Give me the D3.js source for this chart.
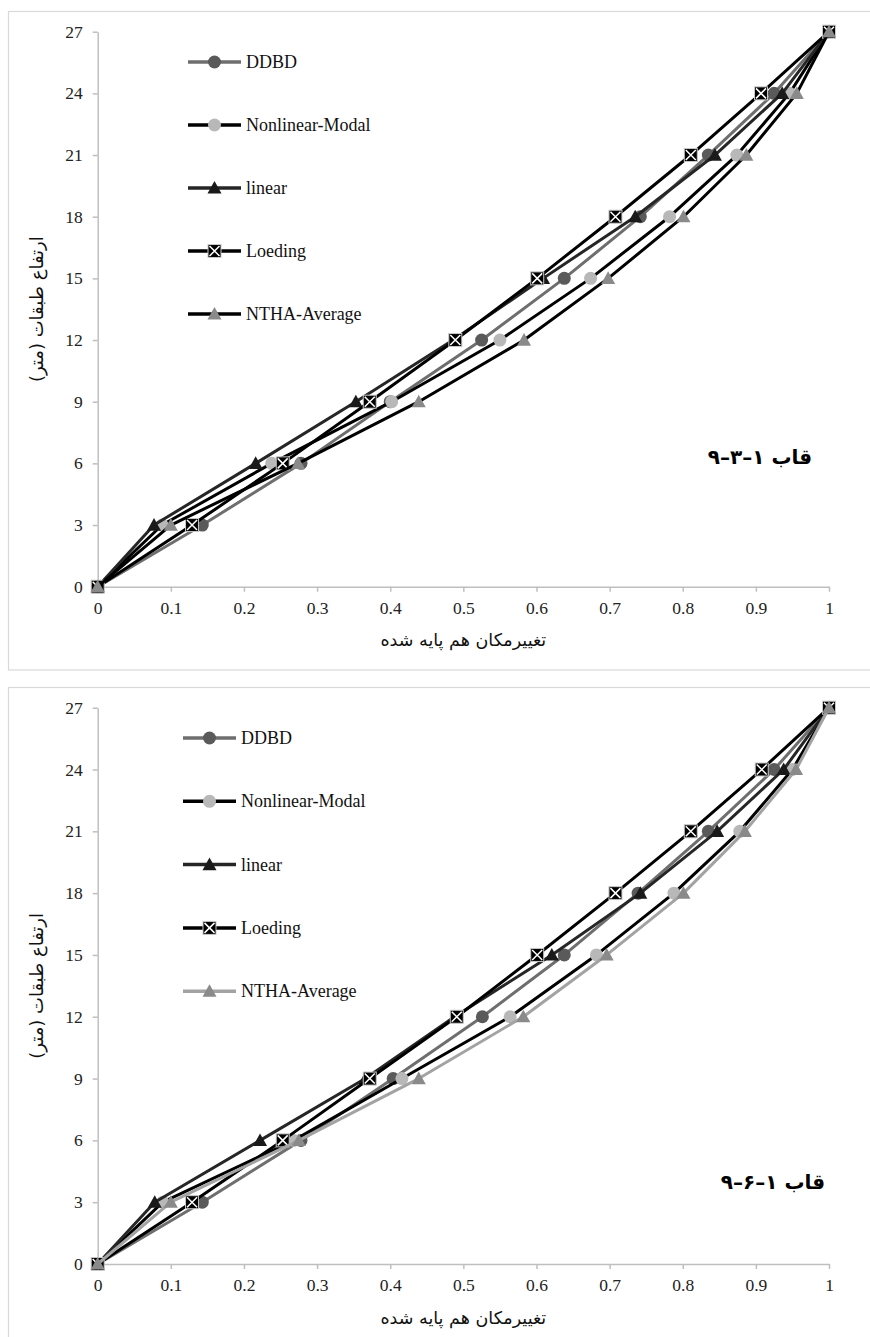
<!DOCTYPE html>
<html>
<head>
<meta charset="utf-8">
<script src="https://cdn.jsdelivr.net/npm/d3@7"></script>
<style>
  html, body { margin: 0; padding: 0; background: #fff; }
  svg { display: block; }
</style>
</head>
<body>
<svg id="chart" width="870" height="1337"></svg>
<script>
// ---------------- data ----------------
const heights = [0, 3, 6, 9, 12, 15, 18, 21, 24, 27];
const seriesNames = ["DDBD", "Nonlinear-Modal", "linear", "Loeding", "NTHA-Average"];
const xTicks = [0, 0.1, 0.2, 0.3, 0.4, 0.5, 0.6, 0.7, 0.8, 0.9, 1];
const yTicks = [0, 3, 6, 9, 12, 15, 18, 21, 24, 27];

// Chart 1 (قاب ۱-۳-۹)
const ddbd1    = [0, 0.143, 0.278, 0.400, 0.525, 0.638, 0.742, 0.835, 0.925, 1];
const nlm1     = [0, 0.088, 0.238, 0.402, 0.550, 0.674, 0.782, 0.874, 0.946, 1];
const linear1  = [0, 0.077, 0.216, 0.353, 0.486, 0.609, 0.735, 0.844, 0.936, 1];
const loeding1 = [0, 0.129, 0.253, 0.372, 0.489, 0.601, 0.708, 0.811, 0.907, 1];
const ntha1    = [0, 0.100, 0.274, 0.439, 0.583, 0.698, 0.801, 0.887, 0.956, 1];

// Chart 2 (قاب ۱-۶-۹)
const ddbd2    = [0, 0.143, 0.278, 0.404, 0.526, 0.638, 0.739, 0.835, 0.925, 1];
const nlm2     = [0, 0.089, 0.268, 0.416, 0.564, 0.682, 0.788, 0.878, 0.950, 1];
const linear2  = [0, 0.078, 0.222, 0.366, 0.488, 0.621, 0.742, 0.847, 0.938, 1];
const loeding2 = [0, 0.129, 0.253, 0.372, 0.491, 0.601, 0.708, 0.811, 0.908, 1];
const ntha2    = [0, 0.100, 0.275, 0.439, 0.582, 0.696, 0.801, 0.885, 0.955, 1];

const xTitle = "تغییرمکان هم پایه شده";
const yTitle = "ارتفاع طبقات (متر)";
const titles = ["قاب ۱–۳–۹", "قاب ۱–۶–۹"];

// ---------------- styles ----------------
const serif = "'Liberation Serif', 'Times New Roman', serif";
const arabic = "'DejaVu Sans', sans-serif";

function styles(chartIdx) {
  return [
    { line: "#6e6e6e", marker: "circle",  fill: "#5a5a5a", stroke: "#5a5a5a" },
    { line: "#000000", marker: "circle",  fill: "#b8b8b8", stroke: "#b8b8b8" },
    { line: "#262626", marker: "tri",     fill: "#1a1a1a", stroke: "#1a1a1a" },
    { line: "#000000", marker: "xsq",     fill: "#000000", stroke: "#c8c8c8" },
    chartIdx === 0
      ? { line: "#000000", marker: "tri", fill: "#8a8a8a", stroke: "#8a8a8a" }
      : { line: "#a3a3a3", marker: "tri", fill: "#8a8a8a", stroke: "#8a8a8a" }
  ];
}

const svg = d3.select("#chart");

function drawMarker(g, type, cx, cy, st) {
  if (type === "circle") {
    g.append("circle").attr("cx", cx).attr("cy", cy).attr("r", 6.5)
      .attr("fill", st.fill);
  } else if (type === "tri") {
    const s = 7;
    g.append("path")
      .attr("d", `M${cx},${cy - s}L${cx + s},${cy + s * 0.8}L${cx - s},${cy + s * 0.8}Z`)
      .attr("fill", st.fill);
  } else if (type === "xsq") {
    const s = 6.5;
    g.append("rect").attr("x", cx - s).attr("y", cy - s).attr("width", 2 * s).attr("height", 2 * s)
      .attr("fill", st.fill).attr("stroke", st.stroke).attr("stroke-width", 1);
    g.append("path")
      .attr("d", `M${cx - s + 1.5},${cy - s + 1.5}L${cx + s - 1.5},${cy + s - 1.5}M${cx + s - 1.5},${cy - s + 1.5}L${cx - s + 1.5},${cy + s - 1.5}`)
      .attr("stroke", "#ffffff").attr("stroke-width", 1.5);
  }
}

function drawChart(cfg) {
  const { idx, top, bottom, left, right, frameY, frameH, data, legend, titlePos, xTitleY } = cfg;
  const st = styles(idx);

  svg.append("rect").attr("x", 8.5).attr("y", frameY).attr("width", 880).attr("height", frameH)
    .attr("fill", "none").attr("stroke", "#d9d9d9").attr("stroke-width", 1.2);

  const x = d3.scaleLinear().domain([0, 1]).range([left, right]);
  const y = d3.scaleLinear().domain([0, 27]).range([bottom, top]);

  const g = svg.append("g");

  // axes
  const xAxis = g.append("g").attr("transform", `translate(0,${bottom})`)
    .call(d3.axisBottom(x).tickValues(xTicks).tickSize(5).tickSizeOuter(0).tickPadding(7)
      .tickFormat(d => d === 0 ? "0" : d === 1 ? "1" : d3.format(".1f")(d)));
  const yAxis = g.append("g").attr("transform", `translate(${left},0)`)
    .call(d3.axisLeft(y).tickValues(yTicks).tickSize(5).tickSizeOuter(0).tickPadding(10));
  [xAxis, yAxis].forEach(a => {
    a.attr("font-family", null).attr("font-size", null);
    a.select(".domain").attr("stroke", "#bfbfbf").attr("stroke-width", 1.5);
    a.selectAll(".tick line").attr("stroke", "#bfbfbf").attr("stroke-width", 1.5);
    a.selectAll(".tick text").attr("fill", "#222").style("font-family", serif).style("font-size", "17.5px");
  });
  xAxis.selectAll(".tick text").attr("dy", "0.85em");

  // series
  const lineGen = d3.line().x(d => x(d[0])).y(d => y(d[1]));
  data.forEach((vals, i) => {
    const pts = vals.map((v, k) => [v, heights[k]]);
    const sg = g.append("g");
    sg.append("path").datum(pts).attr("d", lineGen).attr("fill", "none")
      .attr("stroke", st[i].line).attr("stroke-width", 3).attr("stroke-linejoin", "round");
    pts.forEach(p => drawMarker(sg, st[i].marker, x(p[0]), y(p[1]), st[i]));
  });

  // legend
  seriesNames.forEach((name, i) => {
    const ly = legend.y0 + i * legend.dy;
    const lg = g.append("g");
    lg.append("line").attr("x1", legend.x1).attr("x2", legend.x2).attr("y1", ly).attr("y2", ly)
      .attr("stroke", st[i].line).attr("stroke-width", 3.5);
    drawMarker(lg, st[i].marker, (legend.x1 + legend.x2) / 2, ly, st[i]);
    lg.append("text").attr("x", legend.x2 + 5).attr("y", ly + 6)
      .style("font-family", serif).style("font-size", "18px").attr("fill", "#111").text(name);
  });

  // axis titles
  svg.append("text").attr("x", (left + right) / 2).attr("y", xTitleY)
    .attr("text-anchor", "middle").attr("direction", "rtl")
    .style("font-family", arabic).style("font-size", "17.5px").attr("fill", "#111").text(xTitle);
  svg.append("text").attr("transform", `translate(43,${(top + bottom) / 2}) rotate(-90)`)
    .attr("text-anchor", "middle").attr("direction", "rtl")
    .style("font-family", arabic).style("font-size", "18px").attr("fill", "#111").text(yTitle);

  // chart title
  svg.append("text").attr("x", titlePos[0]).attr("y", titlePos[1])
    .attr("text-anchor", "middle").attr("direction", "rtl")
    .style("font-family", arabic).style("font-size", "20px").style("font-weight", "bold")
    .attr("fill", "#000").text(titles[idx]);
}

drawChart({
  idx: 0, top: 31.7, bottom: 586.7, left: 97.7, right: 829,
  frameY: 11.5, frameH: 658.5,
  data: [ddbd1, nlm1, linear1, loeding1, ntha1],
  legend: { x1: 188, x2: 241, y0: 62, dy: 63 },
  titlePos: [760, 464], xTitleY: 646
});

drawChart({
  idx: 1, top: 707.7, bottom: 1264, left: 97.7, right: 829,
  frameY: 687.5, frameH: 700,
  data: [ddbd2, nlm2, linear2, loeding2, ntha2],
  legend: { x1: 183, x2: 236, y0: 738, dy: 63.3 },
  titlePos: [773, 1189], xTitleY: 1324
});
</script>
</body>
</html>
